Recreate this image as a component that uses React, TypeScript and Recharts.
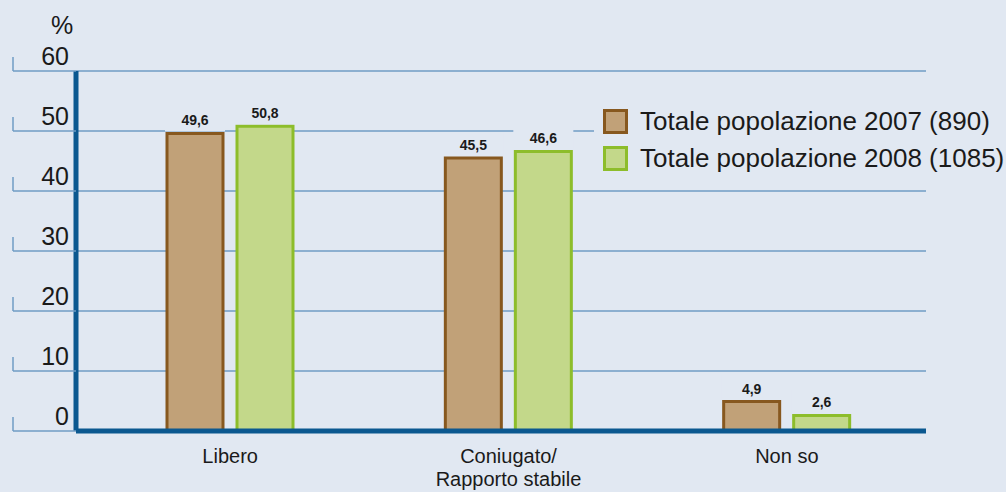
import { BarChart, Bar, XAxis, YAxis, CartesianGrid, Legend, LabelList } from "recharts";

const categories = ["Libero", "Coniugato/\nRapporto stabile", "Non so"];
const totale2007 = [49.6, 45.5, 4.9];
const totale2008 = [50.8, 46.6, 2.6];
const yTicks = [0, 10, 20, 30, 40, 50, 60];
const seriesNames = ["Totale popolazione 2007 (890)", "Totale popolazione 2008 (1085)"];

const data = categories.map((name, i) => ({
  name,
  t2007: totale2007[i],
  t2008: totale2008[i],
}));

const BG = "#e1e8f2";
const AXIS = "#0b5890";
const GRID = "#6f9cc4";
const BROWN = { fill: "#c1a178", stroke: "#87581f" };
const GREEN = { fill: "#c3d88a", stroke: "#8dbd2b" };
const FONT = '"Liberation Sans", Arial, sans-serif';

const fmt = (v: number) => v.toFixed(1).replace(".", ",");

function YTick(props: any) {
  const { y, payload } = props;
  return (
    <g>
      <line x1={13} x2={76} y1={y} y2={y} stroke={GRID} strokeWidth={1.5} />
      <line x1={13} x2={13} y1={y - 14} y2={y} stroke={GRID} strokeWidth={1.5} />
      <text x={69} y={y - 6} textAnchor="end" fontSize={25} fill="#1a1a1a" fontFamily={FONT}>
        {payload.value}
      </text>
    </g>
  );
}

function XTick(props: any) {
  const { x, payload } = props;
  const lines = String(payload.value).split("\n");
  return (
    <text x={x} y={463} textAnchor="middle" fontSize={20} fill="#1a1a1a" fontFamily={FONT}>
      {lines.map((l, i) => (
        <tspan key={i} x={x} dy={i === 0 ? 0 : 23}>
          {l}
        </tspan>
      ))}
    </text>
  );
}

// label with a background patch that hides the grid line behind it
function ValueLabel(props: any) {
  const { x, y, width, value } = props;
  return (
    <g>
      <rect x={x - 2} y={y - 26} width={width + 4} height={24} fill={BG} />
      <text
        x={x + width / 2}
        y={y - 8}
        textAnchor="middle"
        fontSize={14}
        fontWeight="bold"
        fill="#1a1a1a"
        fontFamily={FONT}
      >
        {fmt(Number(value))}
      </text>
    </g>
  );
}

function LegendBox() {
  const colors = [BROWN, GREEN];
  return (
    <div style={{ background: BG, padding: "3px 0 4px 9px", fontFamily: FONT }}>
      {seriesNames.map((n, i) => (
        <div key={n} style={{ display: "flex", alignItems: "center", height: 37 }}>
          <div
            style={{
              width: 19,
              height: 19,
              background: colors[i].fill,
              border: `3px solid ${colors[i].stroke}`,
              marginRight: 12,
            }}
          />
          <span style={{ fontSize: 26, color: "#1a1a1a", whiteSpace: "nowrap" }}>{n}</span>
        </div>
      ))}
    </div>
  );
}

export default function App() {
  return (
    <div style={{ width: 1006, height: 492, background: BG, position: "relative" }}>
      <style>{"body{margin:0}"}</style>
      <div
        style={{
          position: "absolute",
          left: 51,
          top: 11,
          fontSize: 25,
          fontFamily: FONT,
          color: "#1a1a1a",
        }}
      >
        %
      </div>
      <BarChart
        width={1006}
        height={492}
        data={data}
        margin={{ top: 71, right: 80, bottom: 31, left: 0 }}
        barSize={56}
        barGap={14}
      >
        <CartesianGrid vertical={false} stroke={GRID} strokeWidth={1.5} />
        <XAxis
          dataKey="name"
          height={30}
          tick={<XTick />}
          tickLine={false}
          axisLine={{ stroke: AXIS, strokeWidth: 5 }}
          padding={{ left: 15, right: 0 }}
          interval={0}
        />
        <YAxis
          width={76}
          domain={[0, 60]}
          ticks={yTicks}
          tick={<YTick />}
          tickLine={false}
          axisLine={{ stroke: AXIS, strokeWidth: 5 }}
        />
        <Legend
          layout="horizontal"
          verticalAlign="middle"
          align="center"
          wrapperStyle={{ left: 594, top: 100, width: 412 }}
          content={() => <LegendBox />}
        />
        <Bar dataKey="t2007" fill={BROWN.fill} stroke={BROWN.stroke} strokeWidth={3} isAnimationActive={false}>
          <LabelList dataKey="t2007" content={<ValueLabel />} />
        </Bar>
        <Bar dataKey="t2008" fill={GREEN.fill} stroke={GREEN.stroke} strokeWidth={3} isAnimationActive={false}>
          <LabelList dataKey="t2008" content={<ValueLabel />} />
        </Bar>
      </BarChart>
    </div>
  );
}
